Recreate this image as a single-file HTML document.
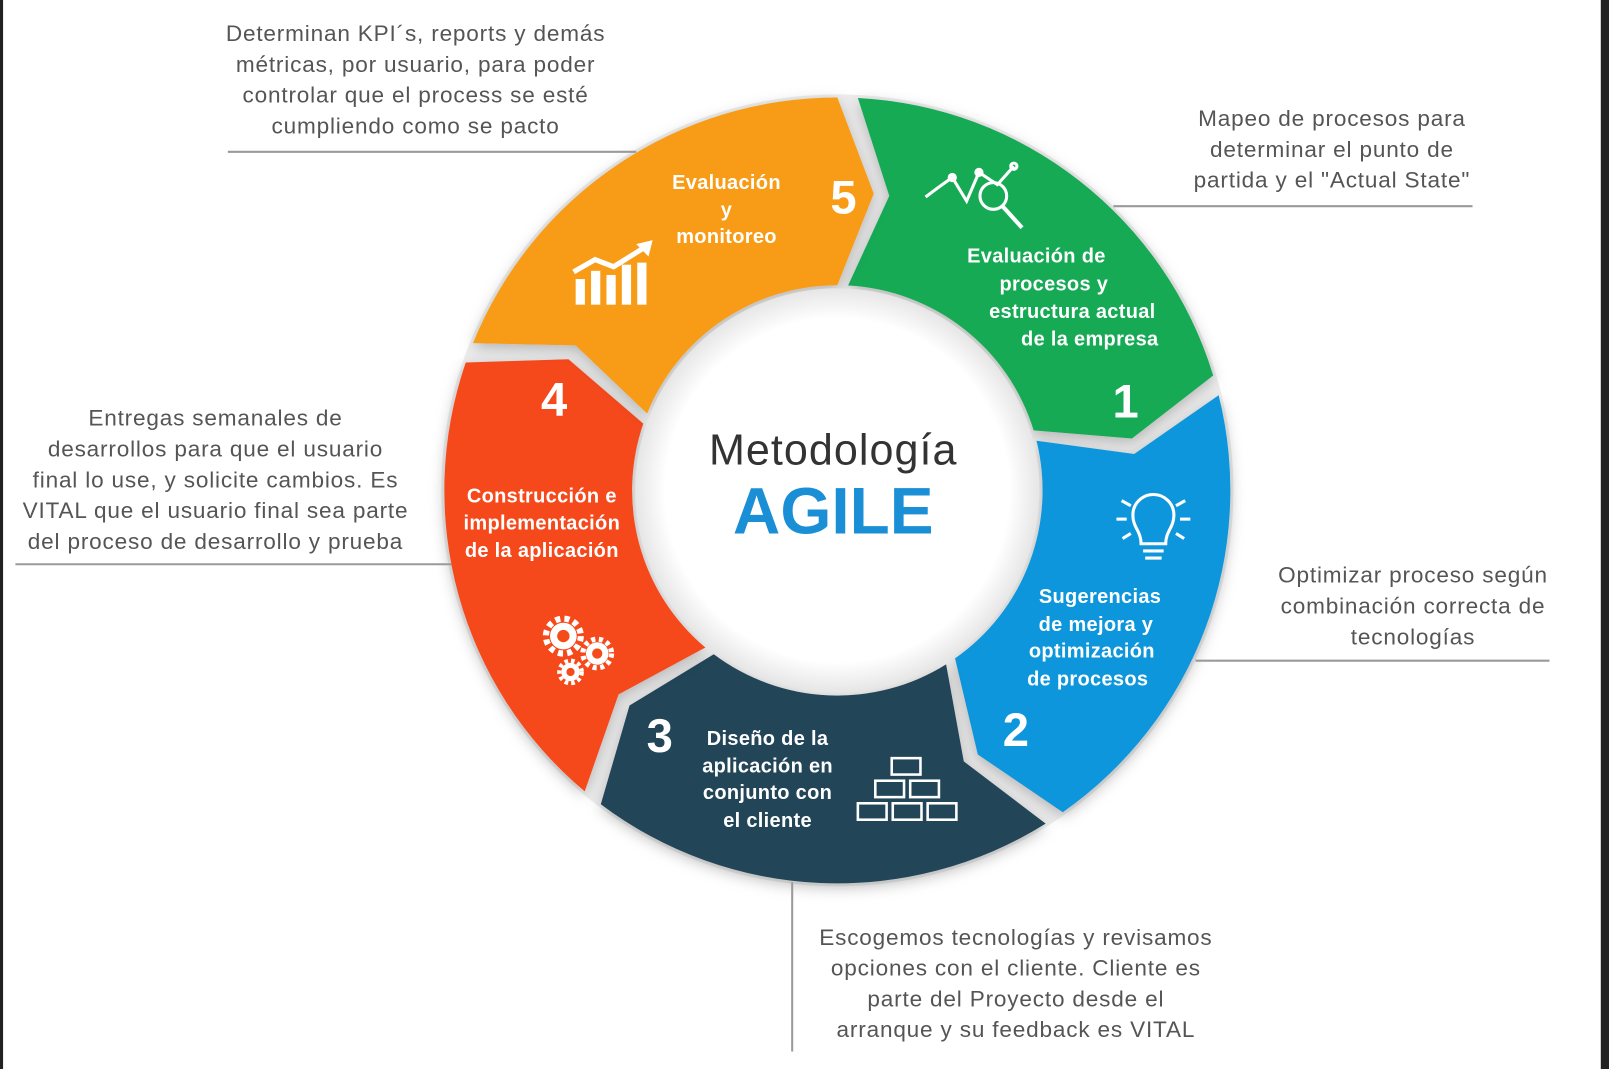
<!DOCTYPE html>
<html><head><meta charset="utf-8"><title>Metodología AGILE</title>
<style>
html,body{margin:0;padding:0;background:#fff;}
svg{display:block;}
.g{font-family:"Liberation Sans",sans-serif;fill:#555;font-size:22px;text-anchor:middle;letter-spacing:0.8px;}
.w{font-family:"Liberation Sans",sans-serif;fill:#fff;font-size:19.5px;font-weight:bold;text-anchor:middle;letter-spacing:0.3px;}
.n{font-family:"Liberation Sans",sans-serif;fill:#fff;font-size:46px;font-weight:bold;text-anchor:middle;}
</style></head>
<body>
<svg id="chart" width="1609" height="1069" viewBox="0 0 1568 1042" preserveAspectRatio="none" xmlns="http://www.w3.org/2000/svg">
<defs>
<filter id="sh" x="-20%" y="-20%" width="140%" height="140%"><feDropShadow dx="0" dy="4" stdDeviation="7" flood-color="#000" flood-opacity="0.25"/></filter>
<radialGradient id="inner" cx="50%" cy="50%" r="50%"><stop offset="85%" stop-color="#fff"/><stop offset="100%" stop-color="#e6e6e6"/></radialGradient>
</defs>
<rect x="0" y="0" width="1568" height="1042" fill="#fff"/>
<rect x="0" y="0" width="3" height="1042" fill="#222"/>
<rect x="1560" y="0" width="8" height="1042" fill="#222"/>
<circle cx="816" cy="478" r="386" fill="#ededed"/>
<g id="segs"></g>
<circle cx="816" cy="478" r="197" fill="url(#inner)"/>
<text x="812" y="453" style="font-family:'Liberation Sans',sans-serif;font-size:42px;fill:#333;text-anchor:middle;letter-spacing:1px;">Metodología</text>
<text x="812" y="520" style="font-family:'Liberation Sans',sans-serif;font-size:64px;font-weight:bold;fill:#1b8fd6;text-anchor:middle;">AGILE</text>

<g><text class="w" x="708" y="184">Evaluación</text><text class="w" x="708" y="211">y</text><text class="w" x="708" y="237">monitoreo</text></g>
<text class="n" x="822" y="208">5</text>
<g><text class="w" x="1010" y="256">Evaluación de</text><text class="w" x="1027" y="283">procesos y</text><text class="w" x="1045" y="310">estructura actual</text><text class="w" x="1062" y="337">de la empresa</text></g>
<text class="n" x="1097" y="407">1</text>
<g><text class="w" x="1072" y="588">Sugerencias</text><text class="w" x="1068" y="615">de mejora y</text><text class="w" x="1064" y="641">optimización</text><text class="w" x="1060" y="668">de procesos</text></g>
<text class="n" x="990" y="727">2</text>
<g><text class="w" x="748" y="726">Diseño de la</text><text class="w" x="748" y="753">aplicación en</text><text class="w" x="748" y="779">conjunto con</text><text class="w" x="748" y="806">el cliente</text></g>
<text class="n" x="643" y="733">3</text>
<g><text class="w" x="528" y="490">Construcción e</text><text class="w" x="528" y="516">implementación</text><text class="w" x="528" y="543">de la aplicación</text></g>
<text class="n" x="540" y="405">4</text>

<g fill="#fff" stroke="#fff">
<rect x="561" y="272" width="9" height="25" stroke="none"/><rect x="576" y="264" width="9" height="33" stroke="none"/><rect x="591" y="268" width="9" height="29" stroke="none"/><rect x="606" y="258" width="9" height="39" stroke="none"/><rect x="621" y="256" width="9" height="41" stroke="none"/>
<polyline points="559,265 580,253 598,260 630,240" fill="none" stroke-width="5"/><polygon points="636,234 620,238 632,250" stroke="none"/>
</g>
<g fill="none" stroke="#fff" stroke-width="3">
<polyline points="902,192 914,183 928,173 942,196 954,168 972,180 988,162"/>
<circle cx="928" cy="173" r="3"/><circle cx="954" cy="168" r="3"/><circle cx="988" cy="162" r="3"/>
<circle cx="968" cy="191" r="13"/><line x1="977" y1="201" x2="996" y2="222" stroke-width="4"/>
</g>
<g fill="none" stroke="#fff" stroke-width="3">
<path d="M1112,530 C1112,518 1104,514 1104,502 A20,20 0 0 1 1144,502 C1144,514 1136,518 1136,530 Z"/>
<line x1="1114" y1="537" x2="1134" y2="537"/><line x1="1116" y1="544" x2="1132" y2="544"/>
<line x1="1088" y1="506" x2="1098" y2="506"/><line x1="1150" y1="506" x2="1160" y2="506"/>
<line x1="1093" y1="488" x2="1102" y2="493"/><line x1="1155" y1="488" x2="1146" y2="493"/>
<line x1="1094" y1="525" x2="1102" y2="520"/><line x1="1154" y1="525" x2="1146" y2="520"/>
</g>
<g fill="none" stroke="#fff" stroke-width="2.5">
<rect x="869" y="739" width="28" height="16"/><rect x="853" y="761" width="28" height="16"/><rect x="887" y="761" width="28" height="16"/>
<rect x="836" y="783" width="28" height="16"/><rect x="870" y="783" width="28" height="16"/><rect x="904" y="783" width="28" height="16"/>
</g>
<g fill="#fff" stroke="#fff">
<circle cx="549" cy="620" r="17" fill="none" stroke-width="6" stroke-dasharray="5 4"/><circle cx="549" cy="620" r="13" stroke="none"/>
<circle cx="582" cy="637" r="14" fill="none" stroke-width="5" stroke-dasharray="4 3.5"/><circle cx="582" cy="637" r="11" stroke="none"/>
<circle cx="556" cy="655" r="11" fill="none" stroke-width="4" stroke-dasharray="3.5 3"/><circle cx="556" cy="655" r="9" stroke="none"/>
<circle cx="549" cy="620" r="6" fill="#f54a1a" stroke="none"/><circle cx="582" cy="637" r="5" fill="#f54a1a" stroke="none"/><circle cx="556" cy="655" r="4" fill="#f54a1a" stroke="none"/>
</g>

<g stroke="#9a9a9a" stroke-width="2">
<line x1="222" y1="148" x2="620" y2="148"/>
<line x1="1085" y1="201" x2="1435" y2="201"/>
<line x1="1165" y1="644" x2="1510" y2="644"/>
<line x1="15" y1="550" x2="440" y2="550"/>
<line x1="772" y1="860" x2="772" y2="1025"/>
</g>

<g><text class="g" x="405" y="40">Determinan KPI´s, reports y demás</text><text class="g" x="405" y="70">métricas, por usuario, para poder</text><text class="g" x="405" y="100">controlar que el process se esté</text><text class="g" x="405" y="130">cumpliendo como se pacto</text></g>
<g><text class="g" x="1298" y="123">Mapeo de procesos para</text><text class="g" x="1298" y="153">determinar el punto de</text><text class="g" x="1298" y="183">partida y el "Actual State"</text></g>
<g><text class="g" x="1377" y="568">Optimizar proceso según</text><text class="g" x="1377" y="598">combinación correcta de</text><text class="g" x="1377" y="628">tecnologías</text></g>
<g><text class="g" x="210" y="415">Entregas semanales de</text><text class="g" x="210" y="445">desarrollos para que el usuario</text><text class="g" x="210" y="475">final lo use, y solicite cambios. Es</text><text class="g" x="210" y="505">VITAL que el usuario final sea parte</text><text class="g" x="210" y="535">del proceso de desarrollo y prueba</text></g>
<g><text class="g" x="990" y="921">Escogemos tecnologías y revisamos</text><text class="g" x="990" y="951">opciones con el cliente. Cliente es</text><text class="g" x="990" y="981">parte del Proyecto desde el</text><text class="g" x="990" y="1011">arranque y su feedback es VITAL</text></g>
</svg>
<script>
const stepNames = ['step-1-evaluation','step-2-suggestions','step-3-design','step-4-construction','step-5-monitoring'];
const stepStarts = [-87, -14, 58, 130, 202];
const stepColors = ['#17aa55','#0a96dc','#234459','#f54a1a','#f89b12'];
const cx=816, cy=478, R=383, r=200, gap=3, tip=7;
function pt(a,rad){const t=a*Math.PI/180;return (cx+rad*Math.cos(t)).toFixed(1)+','+(cy+rad*Math.sin(t)).toFixed(1);}
const g=document.getElementById('segs');
for(let i=0;i<5;i++){
  const s=stepStarts[i], e=stepStarts[(i+1)%5]+(i===4?360:0)-gap;
  const m=(R+r)/2;
  const d='M'+pt(s,R)+' A'+R+','+R+' 0 0 1 '+pt(e,R)+' L'+pt(e+tip,m)+' L'+pt(e,r)+
    ' A'+r+','+r+' 0 0 0 '+pt(s,r)+' L'+pt(s+tip,m)+' Z';
  const p=document.createElementNS('http://www.w3.org/2000/svg','path');
  p.setAttribute('d',d);p.setAttribute('fill',stepColors[i]);p.setAttribute('filter','url(#sh)');
  
  
  g.appendChild(p);
}
</script>
</body></html>
